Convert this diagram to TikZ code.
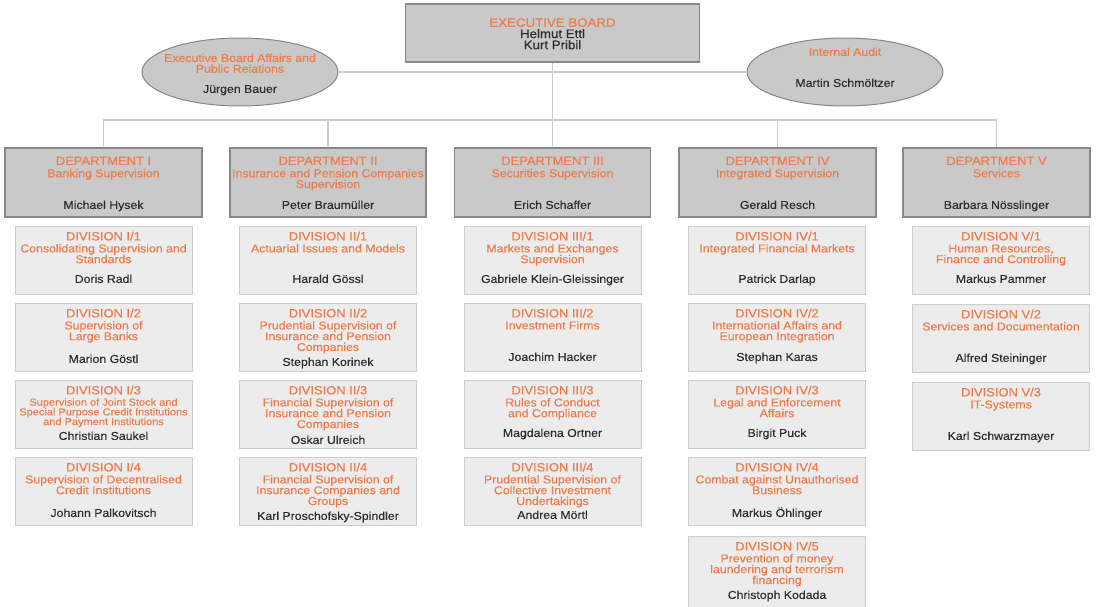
\documentclass[tikz,border=0pt]{standalone}
\usepackage{fontspec}
\setmainfont[FakeStretch=1.08,FakeBold=0.35]{Liberation Sans}
\usetikzlibrary{shapes.geometric}
\definecolor{orng}{RGB}{236,124,76}
\definecolor{nametxt}{RGB}{45,45,45}
\definecolor{deptfill}{RGB}{201,201,201}
\definecolor{deptline}{RGB}{135,135,135}
\definecolor{divfill}{RGB}{236,236,236}
\definecolor{divline}{RGB}{205,205,205}
\definecolor{conn}{RGB}{205,205,205}
\newcommand\TitleFont{\fontsize{12}{11}\selectfont}
\newcommand\DivBox[7]{%
  \node[divbox] (#1) at (#2,#3+34) {};
  \node[subtxt] (#1t) at (#2,#3+5.5) {{\TitleFont DIVISION #4}\\[1.2pt]#5};
  \node[person] (#1p) at (#2,#3+#7) {#6};
}
\tikzset{
  divbox/.style={draw=divline, fill=divfill, line width=1pt, minimum width=177pt, minimum height=68pt, inner sep=0},
  deptbox/.style={draw=deptline, fill=deptfill, line width=1.2pt, minimum height=69pt, inner sep=0},
  boardbox/.style={draw=deptline, fill=deptfill, line width=1.2pt, minimum width=294pt, minimum height=58pt, inner sep=0},
  ovalbox/.style={ellipse, draw=deptline, fill=deptfill, line width=1pt, minimum width=196pt, minimum height=68pt, inner sep=0},
  subtxt/.style={text=orng, align=center, inner sep=0, font=\fontsize{11.4}{10.8}\selectfont, anchor=north},
  person/.style={text=nametxt, inner sep=0, font=\fontsize{11.4}{12}\selectfont, text height=8.2pt, text depth=2.4pt},
  conn/.style={draw=conn, line width=1.2pt}
}
\begin{document}
\begin{tikzpicture}[x=1pt,y=-1pt]
\fill[white] (0,0) rectangle (1100,607);
\useasboundingbox (0,0) rectangle (1100,607);

% top level
\node[boardbox] (board) at (552.5,33) {};
\node[subtxt, font=\fontsize{12.3}{11.2}\selectfont] (boardt) at (552.5,18) {{\fontsize{12.3}{11}\selectfont EXECUTIVE BOARD}\\{\color{nametxt}Helmut Ettl}\\{\color{nametxt}Kurt Pribil}};
\node[ovalbox] (ebpr) at (240,72) {};
\node[subtxt] (ebprt) at (240,53.5) {Executive Board Affairs and\\Public Relations};
\node[person] (ebprp) at (240,90) {Jürgen Bauer};
\node[ovalbox] (audit) at (845,72) {};
\node[subtxt] (auditt) at (845,47.5) {Internal Audit};
\node[person] (auditp) at (845,84) {Martin Schmöltzer};

% departments
\node[deptbox, minimum width=197pt] (dep1) at (103.5,182.5) {};
\node[deptbox, minimum width=196pt] (dep2) at (328,182.5) {};
\node[deptbox, minimum width=196pt] (dep3) at (552.5,182.5) {};
\node[deptbox, minimum width=197pt] (dep4) at (777.5,182.5) {};
\node[deptbox, minimum width=187pt] (dep5) at (996.5,182.5) {};
\node[subtxt] (dep1t) at (103.5,156.5) {{\TitleFont DEPARTMENT I}\\[1.5pt]Banking Supervision};
\node[subtxt] (dep2t) at (328,156.5) {{\TitleFont DEPARTMENT II}\\[1.5pt]Insurance and Pension Companies\\Supervision};
\node[subtxt] (dep3t) at (552.5,156.5) {{\TitleFont DEPARTMENT III}\\[1.5pt]Securities Supervision};
\node[subtxt] (dep4t) at (777.5,156.5) {{\TitleFont DEPARTMENT IV}\\[1.5pt]Integrated Supervision};
\node[subtxt] (dep5t) at (996.5,156.5) {{\TitleFont DEPARTMENT V}\\[1.5pt]Services};
\node[person] (dep1p) at (103.5,206) {Michael Hysek};
\node[person] (dep2p) at (328,206) {Peter Braumüller};
\node[person] (dep3p) at (552.5,206) {Erich Schaffer};
\node[person] (dep4p) at (777.5,206) {Gerald Resch};
\node[person] (dep5p) at (996.5,206) {Barbara Nösslinger};

% connectors
\coordinate (bus) at (552.5,120);
\draw[conn] (ebpr.east) -- (audit.west);
\draw[conn] (board.south) -- (bus);
\foreach \d in {dep1,dep2,dep3,dep4,dep5} \draw[conn] (bus) -| (\d.north);

% divisions column I
\DivBox{d11}{103.5}{226}{I/1}{Consolidating Supervision and\\Standards}{Doris Radl}{54}
\DivBox{d12}{103.5}{303}{I/2}{Supervision of\\Large Banks}{Marion Göstl}{57}
\node[divbox] (d13) at (103.5,380+34) {};
\node[subtxt, font=\fontsize{10.2}{9.7}\selectfont] (d13t) at (103.5,385.5) {{\TitleFont DIVISION I/3}\\[1.6pt]Supervision of Joint Stock and\\Special Purpose Credit Institutions\\and Payment Institutions};
\node[person] (d13p) at (103.5,437) {Christian Saukel};
\DivBox{d14}{103.5}{457}{I/4}{Supervision of Decentralised\\Credit Institutions}{Johann Palkovitsch}{57}

% column II
\DivBox{d21}{328}{226}{II/1}{Actuarial Issues and Models}{Harald Gössl}{54}
\DivBox{d22}{328}{303}{II/2}{Prudential Supervision of\\Insurance and Pension\\Companies}{Stephan Korinek}{60}
\DivBox{d23}{328}{380}{II/3}{Financial Supervision of\\Insurance and Pension\\Companies}{Oskar Ulreich}{61}
\DivBox{d24}{328}{457}{II/4}{Financial Supervision of\\Insurance Companies and\\Groups}{Karl Proschofsky-Spindler}{60}

% column III
\DivBox{d31}{552.5}{226}{III/1}{Markets and Exchanges\\Supervision}{Gabriele Klein-Gleissinger}{54}
\DivBox{d32}{552.5}{303}{III/2}{Investment Firms}{Joachim Hacker}{55}
\DivBox{d33}{552.5}{380}{III/3}{Rules of Conduct\\and Compliance}{Magdalena Ortner}{54}
\DivBox{d34}{552.5}{457}{III/4}{Prudential Supervision of\\Collective Investment\\Undertakings}{Andrea Mörtl}{59}

% column IV
\DivBox{d41}{777}{226}{IV/1}{Integrated Financial Markets}{Patrick Darlap}{54}
\DivBox{d42}{777}{303}{IV/2}{International Affairs and\\European Integration}{Stephan Karas}{55}
\DivBox{d43}{777}{380}{IV/3}{Legal and Enforcement\\Affairs}{Birgit Puck}{54}
\DivBox{d44}{777}{457}{IV/4}{Combat against Unauthorised\\Business}{Markus Öhlinger}{57}
\node[divbox, minimum height=71pt] (d45) at (777,536+35.5) {};
\node[subtxt] (d45t) at (777,536+5.5) {{\TitleFont DIVISION IV/5}\\[1.2pt]Prevention of money\\laundering and terrorism\\financing};
\node[person] (d45p) at (777,596) {Christoph Kodada};

% column V
\DivBox{d51}{1001}{226}{V/1}{Human Resources,\\Finance and Controlling}{Markus Pammer}{54}
\DivBox{d52}{1001}{304}{V/2}{Services and Documentation}{Alfred Steininger}{55}
\DivBox{d53}{1001}{382}{V/3}{IT-Systems}{Karl Schwarzmayer}{55}
\end{tikzpicture}
\end{document}
